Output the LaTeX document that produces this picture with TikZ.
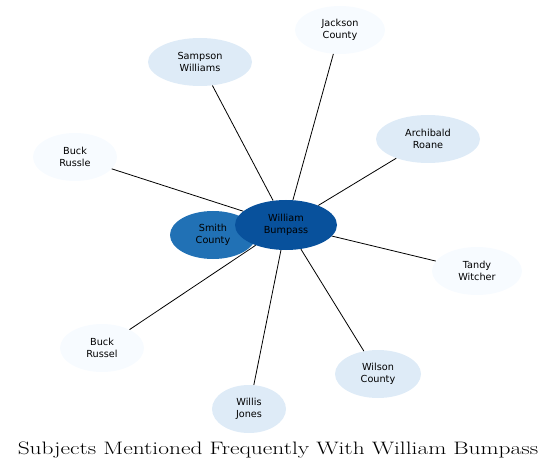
\documentclass[tikz,border=0pt]{standalone}
\usepackage{fontspec}
\usetikzlibrary{shapes.geometric}
\newfontfamily\nodefont{DejaVu Sans}
\begin{document}
\begin{tikzpicture}[x = 1pt,
    y = -1pt,
    color = {black}]
    % colours of the subjects
    \definecolor{pale}{HTML}{F7FBFF}
    \definecolor{light}{HTML}{DEEBF7}
    \definecolor{mid}{HTML}{2171B5}
    \definecolor{deep}{HTML}{08519C}
    % style of subjects
    \tikzset{subject/.style={ellipse,draw=none,inner sep=0pt,align=center,
        font=\nodefont\fontsize{9.7}{12}\selectfont,minimum height=48pt},
      link/.style={line width=0.8pt,black}}
    \useasboundingbox (0,0) rectangle (556,470);
    % outer subjects
    \node[subject,fill=pale,minimum width=90pt]  (jackson)   at (340,30)  {Jackson\\County};
    \node[subject,fill=light,minimum width=104pt] (sampson)  at (200,62)  {Sampson\\Williams};
    \node[subject,fill=light,minimum width=104pt] (archibald) at (428,139) {Archibald\\Roane};
    \node[subject,fill=pale,minimum width=84pt]  (russle)    at (75,157)  {Buck\\Russle};
    \node[subject,fill=pale,minimum width=90pt]  (tandy)     at (477,271) {Tandy\\Witcher};
    \node[subject,fill=pale,minimum width=84pt]  (russel)    at (102,348) {Buck\\Russel};
    \node[subject,fill=light,minimum width=74pt] (willis)    at (249,409) {Willis\\Jones};
    \node[subject,fill=light,minimum width=86pt] (wilson)    at (378,374) {Wilson\\County};
    % centre, placed before the links so they end on its border
    \path (286,225) coordinate (c);
    \node[subject,minimum width=102pt,minimum height=50pt] (william) at (c) {};
    % links
    \foreach \s in {jackson,sampson,archibald,russle,tandy,russel,willis,wilson}
      \draw[link] (william) -- (\s);
    % face "smith"
    \node[subject,fill=mid,minimum width=86pt] (smith) at (213,235) {Smith\\County};
    % face "william"
    \node[subject,fill=deep,minimum width=102pt,minimum height=50pt] at (c) {William\\Bumpass};
    % title
    \node[font=\fontsize{18}{20}\selectfont,anchor=base,inner sep=0pt,xscale=1.3] (title) at (278,454) {Subjects Mentioned Frequently With William Bumpass};
  \end{tikzpicture}
\end{document}
